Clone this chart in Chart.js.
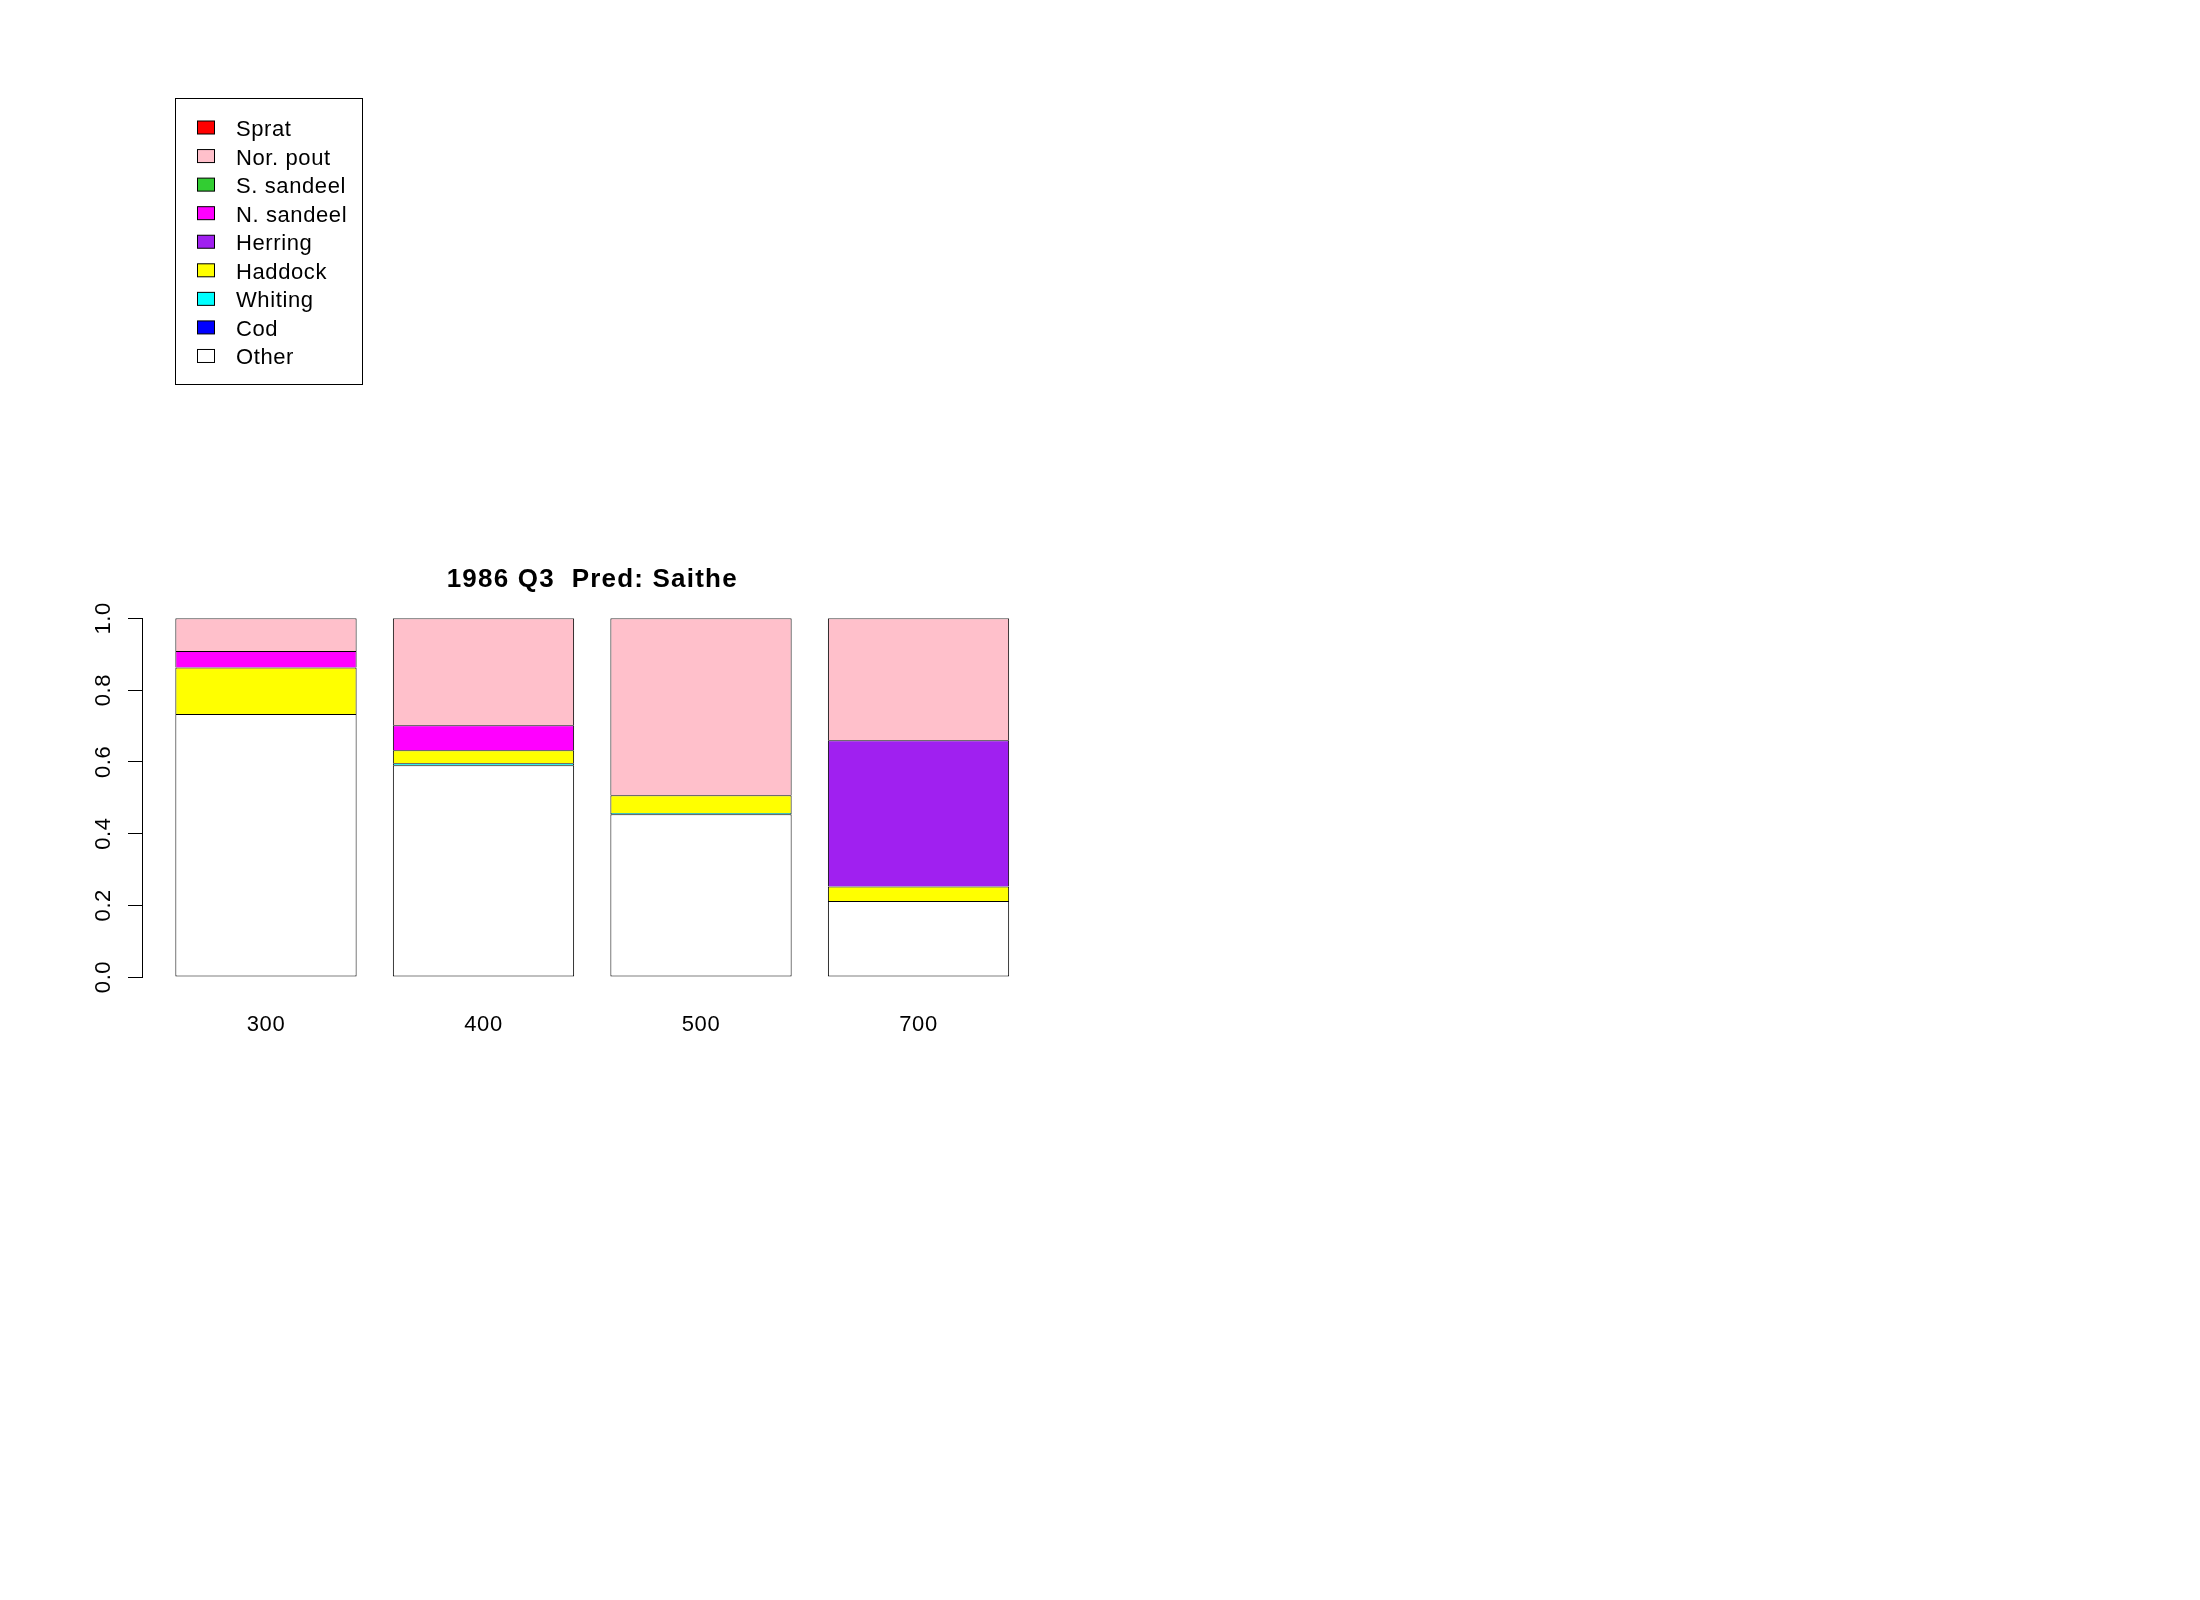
<!DOCTYPE html>
<html>
<head>
<meta charset="utf-8">
<script src="https://cdn.jsdelivr.net/npm/chart.js@4/dist/chart.umd.min.js"></script>
<style>
html,body{margin:0;padding:0;background:#fff;}
canvas{display:block;}
</style>
</head>
<body>
<canvas id="c" width="2200" height="1600"></canvas>
<script>
// ---- data ----
const categories = ['300', '400', '500', '700'];
const titleText = '1986 Q3  Pred: Saithe';
const yTicks = [0.0, 0.2, 0.4, 0.6, 0.8, 1.0];

// stacked from bottom to top
const other     = [0.733, 0.590, 0.454, 0.212];
const cod       = [0, 0, 0, 0];
const whiting   = [0, 0.006, 0.003, 0];
const haddock   = [0.130, 0.036, 0.050, 0.040];
const herring   = [0, 0, 0, 0.408];
const nSandeel  = [0.046, 0.070, 0, 0];
const sSandeel  = [0, 0, 0, 0];
const norPout   = [0.091, 0.298, 0.493, 0.340];
const sprat     = [0, 0, 0, 0];

const seriesNames  = ['Other', 'Cod', 'Whiting', 'Haddock', 'Herring', 'N. sandeel', 'S. sandeel', 'Nor. pout', 'Sprat'];
const seriesValues = [other, cod, whiting, haddock, herring, nSandeel, sSandeel, norPout, sprat];
const seriesColors = ['#FFFFFF', '#0000FF', '#00FFFF', '#FFFF00', '#A020F0', '#FF00FF', '#32CD32', '#FFC0CB', '#FF0000'];

const FONT = '"Liberation Sans", Arial, sans-serif';

const datasets = seriesNames.map((name, k) => ({
  label: name,
  data: seriesValues[k].map((v, i) => ({ x: i, y: v })),
  backgroundColor: seriesColors[k],
  borderColor: '#000000',
  borderWidth: 1,
  borderSkipped: k === 0 ? false : 'start',
  barPercentage: 1 / 1.2,
  categoryPercentage: 1.0
}));

// custom drawing: title, rotated y tick labels, legend box
const decorations = {
  id: 'decorations',
  afterDraw(chart) {
    const ctx = chart.ctx;
    const ca = chart.chartArea;
    ctx.save();
    // title
    ctx.fillStyle = '#000';
    ctx.letterSpacing = '1.2px';
    ctx.font = 'bold 26px ' + FONT;
    ctx.textAlign = 'center';
    ctx.textBaseline = 'alphabetic';
    ctx.fillText(titleText, (ca.left + ca.right) / 2, 586.5);

    ctx.letterSpacing = '0.6px';
    // y tick labels, rotated (read bottom to top)
    const ys = chart.scales.y;
    ctx.font = '22px ' + FONT;
    yTicks.forEach(v => {
      const py = ys.getPixelForValue(v);
      ctx.save();
      ctx.translate(ca.left - 40, py);
      ctx.rotate(-Math.PI / 2);
      ctx.textAlign = 'center';
      ctx.textBaseline = 'alphabetic';
      ctx.fillText(v.toFixed(1), 0, 8);
      ctx.restore();
    });

    // legend (top of stack first)
    const bx = 175.5, by = 98.5, bw = 187, bh = 286;
    ctx.lineWidth = 1;
    ctx.strokeStyle = '#000';
    ctx.strokeRect(bx, by, bw, bh);
    const items = chart.data.datasets.slice().reverse();
    ctx.font = '22px ' + FONT;
    ctx.textAlign = 'left';
    ctx.textBaseline = 'alphabetic';
    items.forEach((ds, i) => {
      const cy = 127.5 + i * 28.56;
      ctx.fillStyle = ds.backgroundColor;
      ctx.fillRect(197.5, cy - 6.5, 17, 13);
      ctx.strokeStyle = '#000';
      ctx.strokeRect(197.5, cy - 6.5, 17, 13);
      ctx.fillStyle = '#000';
      ctx.fillText(ds.label, 236, cy + 8.5);
    });
    ctx.restore();
  }
};

const bgPlugin = {
  id: 'bg',
  beforeDraw(chart) {
    const ctx = chart.ctx;
    ctx.save();
    ctx.fillStyle = '#fff';
    ctx.fillRect(0, 0, chart.width, chart.height);
    ctx.restore();
    ctx.letterSpacing = '0.6px';
  }
};

new Chart(document.getElementById('c'), {
  type: 'bar',
  data: { datasets },
  options: {
    responsive: false,
    animation: false,
    devicePixelRatio: 1,
    layout: { padding: { left: 92, right: 1157.5, top: 618.3, bottom: 563 } },
    plugins: {
      legend: { display: false },
      title: { display: false },
      tooltip: { enabled: false }
    },
    scales: {
      x: {
        type: 'linear',
        stacked: true,
        offset: false,
        min: -0.57,
        max: categories.length - 1 + 0.57,
        afterBuildTicks(scale) {
          scale.ticks = categories.map((c, i) => ({ value: i }));
        },
        afterFit(scale) { scale.height = 60; },
        grid: { display: false, drawTicks: false, offset: false },
        border: { display: false },
        ticks: {
          autoSkip: false,
          maxRotation: 0,
          padding: 35,
          color: '#000',
          font: { family: FONT, size: 22 },
          callback: (v) => categories[v]
        }
      },
      y: {
        type: 'linear',
        stacked: true,
        min: 0,
        max: 1,
        afterBuildTicks(scale) {
          scale.ticks = yTicks.map(v => ({ value: v }));
        },
        afterFit(scale) { scale.width = 50; },
        grid: { display: true, drawOnChartArea: false, drawTicks: true, tickLength: 14, color: '#000', lineWidth: 1 },
        border: { display: true, color: '#000', width: 1 },
        ticks: { display: false }
      }
    }
  },
  plugins: [bgPlugin, decorations]
});
</script>
</body>
</html>
